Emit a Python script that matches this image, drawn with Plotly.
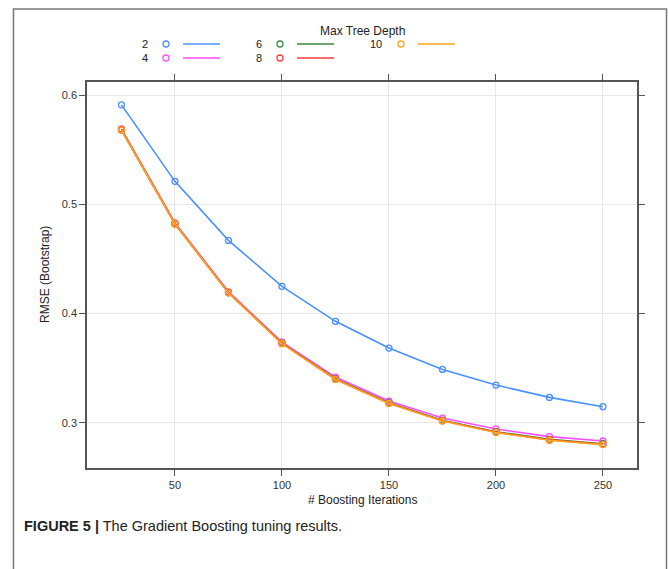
import plotly.graph_objects as go

W, H = 669, 569

iterations = [25, 50, 75, 100, 125, 150, 175, 200, 225, 250]
depths = ["2", "4", "6", "8", "10"]
rmse_d2 = [0.591, 0.521, 0.467, 0.425, 0.393, 0.3685, 0.349, 0.3347, 0.3234, 0.3149]
rmse_d4 = [0.569, 0.483, 0.420, 0.374, 0.342, 0.320, 0.3045, 0.2945, 0.2875, 0.2835]
rmse_d6 = [0.568, 0.482, 0.419, 0.373, 0.3405, 0.3185, 0.3025, 0.292, 0.285, 0.281]
rmse_d8 = [0.5685, 0.4825, 0.4195, 0.3728, 0.3400, 0.318, 0.302, 0.2915, 0.2845, 0.2805]
rmse_d10 = [0.568, 0.482, 0.419, 0.3725, 0.3398, 0.3178, 0.3018, 0.2913, 0.2842, 0.2802]
series = [rmse_d2, rmse_d4, rmse_d6, rmse_d8, rmse_d10]
colors = ["#4a90ff", "#ff4dff", "#3a8a3a", "#ff3b3b", "#ffa31a"]

x_ticks = [50, 100, 150, 200, 250]
y_ticks = [0.3, 0.4, 0.5, 0.6]
y_tick_labels = ["0.3", "0.4", "0.5", "0.6"]

fig = go.Figure()

for name, vals, col in zip(depths, series, colors):
    fig.add_trace(go.Scatter(
        x=iterations, y=vals, mode="lines+markers", name=name,
        line=dict(color=col, width=1.6),
        marker=dict(symbol="circle-open", size=6, color=col, line=dict(width=1.3)),
        showlegend=False,
    ))

# Legend drawn in a pixel-coordinate overlay axis
cols_px = [(145, 166, 183, 220), (259, 280, 297, 334), (376, 401, 418, 455)]
rows_px = [44, 58]
slots = [(0, 0), (0, 1), (1, 0), (1, 1), (2, 0)]
annotations = []
col_labels = {}
for name, col, (ci, ri) in zip(depths, colors, slots):
    lx, cx, x0, x1 = cols_px[ci]
    yy = rows_px[ri]
    fig.add_trace(go.Scatter(
        x=[cx], y=[yy], mode="markers", xaxis="x2", yaxis="y2",
        marker=dict(symbol="circle-open", size=6, color=col, line=dict(width=1.3)),
        showlegend=False, hoverinfo="skip"))
    fig.add_trace(go.Scatter(
        x=[x0, x1], y=[yy, yy], mode="lines", xaxis="x2", yaxis="y2",
        line=dict(color=col, width=1.6), showlegend=False, hoverinfo="skip"))
    col_labels.setdefault(ci, []).append(name)

for ci, names in col_labels.items():
    lx = cols_px[ci][0]
    annotations.append(dict(x=lx, y=rows_px[0] - 8, xref="x2", yref="y2",
                            text="<br>".join(names),
                            showarrow=False, xanchor="center", yanchor="top",
                            font=dict(size=11, color="#222")))

annotations.append(dict(x=362, y=31, xref="x2", yref="y2", text="Max Tree Depth",
                        showarrow=False, xanchor="center", yanchor="middle",
                        font=dict(size=12, color="#222")))
annotations.append(dict(x=45, y=275, xref="x2", yref="y2", text="RMSE (Bootstrap)",
                        showarrow=False, textangle=-90, xanchor="center", yanchor="middle",
                        font=dict(size=12, color="#222")))
annotations.append(dict(x=362, y=500, xref="x2", yref="y2", text="# Boosting Iterations",
                        showarrow=False, xanchor="center", yanchor="middle",
                        font=dict(size=12, color="#222")))
annotations.append(dict(x=22, y=526, xref="x2", yref="y2",
                        text="<b>FIGURE 5 |</b> The Gradient Boosting tuning results.",
                        showarrow=False, xanchor="left", yanchor="middle",
                        font=dict(size=14.5, color="#222", family="Liberation Sans, Arial")))

axis_common = dict(showline=True, linecolor="#555", linewidth=1.5, mirror="ticks",
                   ticks="outside", ticklen=6, tickcolor="#555", tickwidth=1,
                   showgrid=True, gridcolor="#e8e8e8", gridwidth=1, zeroline=False,
                   tickfont=dict(size=11, color="#333"))

fig.update_layout(
    width=W, height=H,
    margin=dict(l=0, r=0, t=0, b=0),
    paper_bgcolor="white", plot_bgcolor="rgba(0,0,0,0)",
    font=dict(family="Liberation Sans, Arial, sans-serif"),
    xaxis=dict(domain=[87 / W, 637 / W], range=[8.9, 265.9], tickvals=x_ticks,
               anchor="y", **axis_common),
    yaxis=dict(domain=[(H - 468) / H, (H - 82) / H], range=[0.2588, 0.6119],
               tickvals=y_ticks, ticktext=y_tick_labels, anchor="x", **axis_common),
    xaxis2=dict(domain=[0, 1], range=[0, W], anchor="y2", visible=False, fixedrange=True),
    yaxis2=dict(domain=[0, 1], range=[H, 0], anchor="x2", visible=False, fixedrange=True),
    annotations=annotations,
    shapes=[dict(type="rect", xref="paper", yref="paper",
                 x0=13.5 / W, x1=666.5 / W, y0=-0.05, y1=(H - 9) / H,
                 line=dict(color="#777", width=1.5))],
)

fig.write_html("out.html")
